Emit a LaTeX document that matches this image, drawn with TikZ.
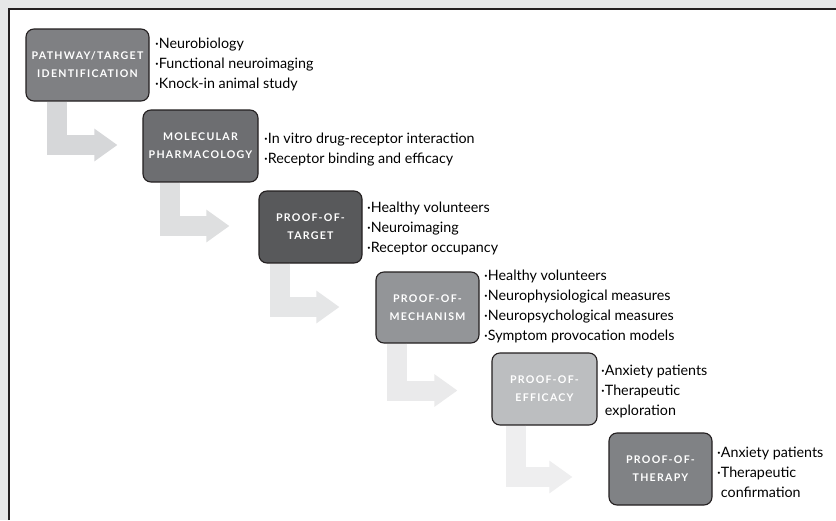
\documentclass[tikz,border=0pt]{standalone}
\usepackage{fontspec}
\setmainfont{Lato}
\newfontfamily\stagefont[LetterSpace=12.0]{Lato}
\usetikzlibrary{arrows.meta}

\definecolor{frameline}{HTML}{231F20}
\definecolor{pagegray}{HTML}{E6E7E8}
\definecolor{stageA}{HTML}{7F8083}
\definecolor{stageB}{HTML}{6D6E71}
\definecolor{stageC}{HTML}{58595B}
\definecolor{stageD}{HTML}{939598}
\definecolor{stageE}{HTML}{BCBEC0}
\definecolor{stageF}{HTML}{808285}
\definecolor{flowA}{HTML}{D6D7D9}
\definecolor{flowB}{HTML}{DEDFE0}
\definecolor{flowC}{HTML}{E5E6E7}
\definecolor{flowD}{HTML}{EAEAEB}
\definecolor{flowE}{HTML}{EEEEEF}

\tikzset{
  stage/.style={draw=frameline, line width=1.1pt, rounded corners=8pt, align=center,
    text=white, minimum width=103pt, minimum height=72pt, inner sep=4pt,
    font=\stagefont\bfseries\fontsize{10.6}{18}\selectfont},
  notes/.style={anchor=west, align=left, inner sep=0pt,
    font=\fontsize{14.3}{20}\selectfont},
  flow/.style={line width=20pt, -{Triangle[length=23pt, width=31pt]}}
}

\begin{document}
\begin{tikzpicture}[x=1pt, y=-1pt]
\useasboundingbox (0,0) rectangle (836,520);
\fill[pagegray] (0,0) rectangle (836,520);
\fill[white] (9,9) rectangle (836,520);
\draw[frameline, line width=2pt] (9,520) -- (9,9) -- (836,9);

\node[stage, fill=stageA, minimum width=123pt] (P1) at (87.5,65) {PATHWAY/TARGET\\IDENTIFICATION};
\node[stage, fill=stageB, minimum width=115pt] (P2) at (200.5,146) {MOLECULAR\\PHARMACOLOGY};
\node[stage, fill=stageC] (P3) at (310.5,227) {PROOF-OF-\\TARGET};
\node[stage, fill=stageD, minimum height=71pt] (P4) at (427.5,307.5) {PROOF-OF-\\MECHANISM};
\node[stage, fill=stageE, minimum width=105pt] (P5) at (544.5,389) {PROOF-OF-\\EFFICACY};
\node[stage, fill=stageF] (P6) at (660.5,469) {PROOF-OF-\\THERAPY};

\node[notes] (N1) at (155,64) {·Neurobiology\\·Functional neuroimaging\\·Knock-in animal study};
\node[notes] (N2) at (264,150) {·In vitro drug-receptor interaction\\·Receptor binding and efficacy};
\node[notes] (N3) at (367,228) {·Healthy volunteers\\·Neuroimaging\\·Receptor occupancy};
\node[notes] (N4) at (484,306) {·Healthy volunteers\\·Neurophysiological measures\\·Neuropsychological measures\\·Symptom provocation models};
\node[notes] (N5) at (601,391) {·Anxiety patients\\·Therapeutic\\\hphantom{·}exploration};
\node[notes] (N6) at (717,472) {·Anxiety patients\\·Therapeutic\\\hphantom{·}confirmation};

\draw [flow, flowA, shorten >=25pt] ([xshift=32pt]P1.south west) |- ([yshift=1pt]P2.west);
\draw [flow, flowB, shorten >=29pt] ([xshift=28pt]P2.south west) |- ([yshift=1pt]P3.west);
\draw [flow, flowC, shorten >=36pt] ([xshift=22pt]P3.south west) |- ([yshift=0.5pt]P4.west);
\draw [flow, flowD, shorten >=34pt] ([xshift=22pt]P4.south west) |- ([yshift=-1.5pt]P5.west);
\draw [flow, flowE, shorten >=36pt] ([xshift=25pt]P5.south west) |- ([yshift=-8pt]P6.west);
\end{tikzpicture}
\end{document}
